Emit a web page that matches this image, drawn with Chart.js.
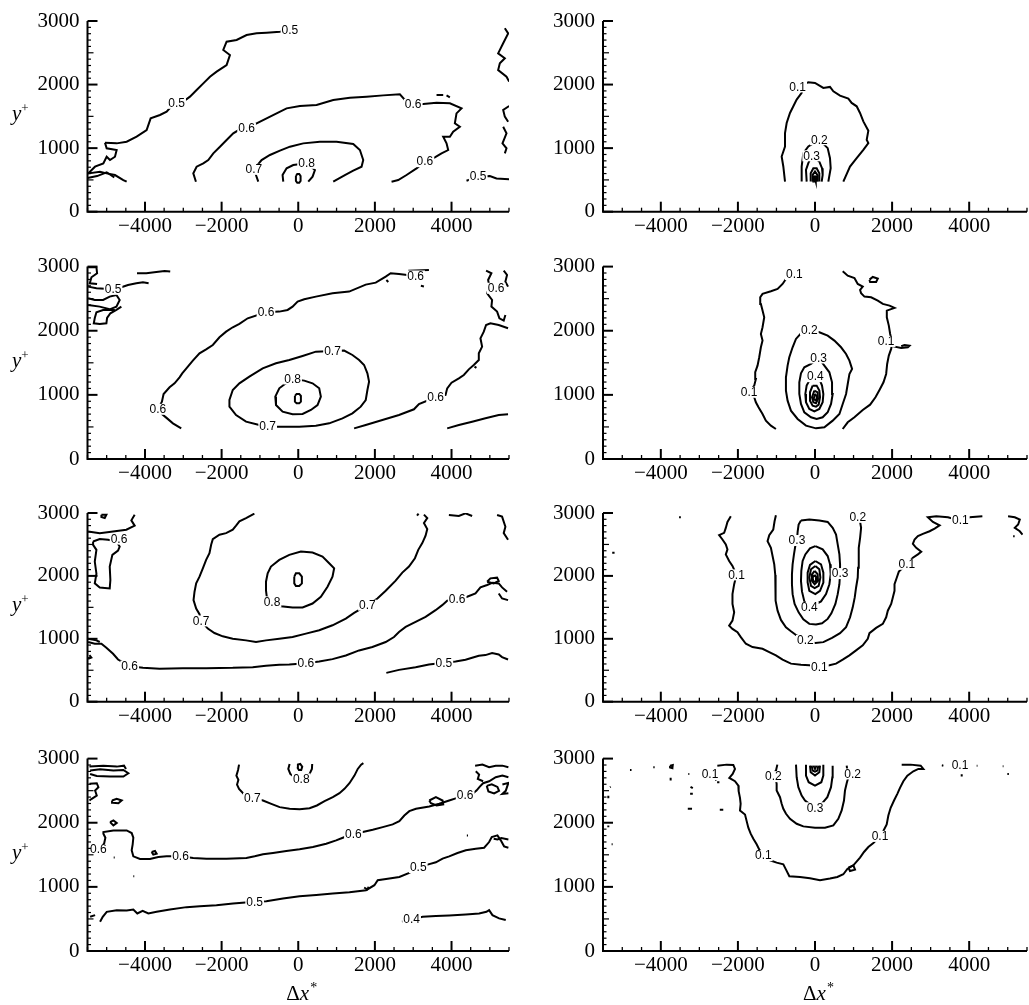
<!DOCTYPE html>
<html>
<head>
<meta charset="utf-8">
<script src="https://cdn.jsdelivr.net/npm/chart.js@4/dist/chart.umd.min.js"></script>
<style>
  body { margin: 0; background: #fff; width: 1029px; height: 1005px; overflow: hidden; position: relative; }
  .panel { position: absolute; }
</style>
</head>
<body>
<script>
// axis values
const X_RANGE = [-5500, 5500];
const Y_RANGE = [0, 3000];
const X_LABEL_TICKS = [-4000, -2000, 0, 2000, 4000];
const Y_LABEL_TICKS = [0, 1000, 2000, 3000];

// ---- row 1, left ----
const a1_lev05 = [
  [[-5044,1086],[-4739,1075],[-4478,1101],[-4218,1180],[-3957,1285],[-3852,1469],[-3609,1521],[-3435,1574],[-3304,1663],[-3174,1705],[-3000,1731],[-2826,1810],[-2652,1914],[-2478,2019],[-2304,2124],[-2130,2203],[-1870,2308],[-1783,2465],[-1957,2544],[-1870,2675],[-1609,2701],[-1348,2780],[-1087,2806],[-826,2817],[-478,2832],[-217,2848]],
  [[4391,488],[4696,551],[5000,561],[5174,524],[5504,509]]
];
const a1_lev06 = [
  [[-2670,472],[-2739,603],[-2652,708],[-2478,761],[-2348,813],[-2217,918],[-2043,1023],[-1870,1128],[-1696,1233],[-1522,1296],[-1348,1311],[-1087,1390],[-826,1469],[-565,1547],[-304,1626],[43,1663],[478,1678],[913,1757],[1348,1794],[1783,1810],[2217,1830],[2652,1846],[2783,1757],[3000,1689],[3261,1694],[3609,1715],[3957,1705],[4261,1626],[4130,1547],[4087,1390],[4217,1337],[4043,1259],[3957,1180],[3783,1180],[3870,1075],[3913,970],[3739,918],[3565,855],[3304,787],[3087,682],[2826,577],[2609,498],[2435,472]]
];
const a1_lev07 = [
  [[-1043,472],[-1104,577],[-1157,666],[-957,813],[-739,892],[-478,960],[-217,1023],[130,1075],[565,1101],[1000,1101],[1435,1065],[1609,970],[1696,813],[1652,708],[1435,645],[1217,577],[913,472]]
];
const a1_lev08 = [
  [[-391,472],[-409,577],[-304,682],[-130,734],[217,761],[435,656],[374,551],[261,472]]
];
const a1_lev09 = [
  [[-61,561],[-26,593],[26,593],[61,561],[61,483],[26,456],[-26,456],[-61,483],[-61,561]]
];
const a1_noise = [
  [[-5044,1086],[-5000,997],[-4739,970],[-4783,865],[-4913,813],[-5000,865],[-5087,760],[-5304,708],[-5478,603],[-5174,629],[-5000,603],[-4783,577],[-4565,498],[-4478,472]],
  [[-5500,530],[-5250,560],[-5000,620],[-4800,540]],
  [[3609,1836],[3783,1836]], [[3870,1830],[3957,1800]],
  [[5391,2885],[5478,2806],[5348,2649],[5217,2491],[5391,2413],[5261,2334],[5217,2229],[5435,2124],[5504,2046]],
  [[5504,1663],[5348,1600],[5391,1495],[5478,1416]],
  [[5348,1337],[5435,1233],[5330,1075],[5435,997],[5391,918]]
];
const a1_labels = [['0.5',-3174,1705],['0.5',-217,2848],['0.5',4696,551],['0.6',-1348,1311],['0.6',3000,1689],['0.6',3304,787],['0.7',-1157,666],['0.8',217,761]];

// ---- row 1, right ----
const b1_lev01 = [
  [[-778,474],[-822,711],[-865,868],[-778,1026],[-778,1237],[-735,1395],[-649,1553],[-562,1658],[-476,1763],[-346,1868],[-320,1990],[-173,2037],[0,2026],[216,1947],[389,1963],[476,1895],[649,1826],[865,1779],[951,1711],[1081,1658],[1168,1553],[1254,1421],[1384,1274],[1341,1132],[1384,1079],[1254,974],[1081,842],[908,711],[735,474]]
];
const b1_lev02 = [[[-346,474],[-346,711],[-303,921],[-173,1026],[112,1132],[329,1000],[389,842],[407,684],[346,474]]];
const b1_lev03 = [[[-216,474],[-234,658],[-173,763],[-86,879],[112,789],[182,684],[199,579],[173,474]]];
const b1_lev04 = [[[-112,474],[-112,605],[-43,684],[43,684],[112,605],[112,474]]];
const b1_lev05 = [[[-69,474],[-61,579],[0,632],[61,579],[69,474]], [[-43,474],[-26,553],[26,553],[43,474]], [[-20,474],[0,520],[20,474]]];
const b1_labels = [['0.1',-450,1963],['0.2',112,1132],['0.3',-86,879]];

// ---- row 2, left ----
const a2_lev05 = [[[3887,478],[4191,530],[4538,582],[4885,634],[5232,686],[5475,697]]];
const a2_lev06 = [
  [[-3054,478],[-3271,556],[-3445,645],[-3558,702],[-3662,775],[-3558,894],[-3514,1014],[-3358,1118],[-3228,1180],[-3098,1274],[-3028,1336],[-2881,1440],[-2751,1534],[-2577,1648],[-2404,1710],[-2230,1778],[-2056,1898],[-1883,1986],[-1709,2054],[-1536,2106],[-1319,2194],[-842,2288],[-495,2298],[-278,2324],[-148,2376],[-17,2454],[156,2490],[460,2532],[894,2584],[1328,2610],[1761,2719],[2022,2750],[2282,2844],[2412,2896],[2629,2886],[3063,2854]],
  [[1458,478],[1761,530],[2195,608],[2629,686],[3020,775],[3150,858],[3584,962],[3844,998],[3887,1102],[4000,1190],[4191,1258],[4321,1310],[4451,1398],[4581,1466],[4712,1544],[4712,1648],[4798,1752],[4755,1882],[4842,1986],[4902,2090],[5015,2116],[5232,2090],[5475,2038]]
];
const a2_lev07 = [
  [[-1015,530],[-1362,582],[-1623,686],[-1796,816],[-1796,920],[-1709,1076],[-1536,1180],[-1276,1284],[-928,1414],[-581,1492],[-234,1544],[113,1607],[460,1674],[894,1684],[1197,1690],[1414,1622],[1588,1544],[1718,1466],[1805,1336],[1848,1206],[1805,1076],[1761,920],[1631,816],[1414,712],[1154,634],[807,556],[460,520],[26,504],[-321,504],[-798,504],[-1015,530]]
];
const a2_lev08 = [
  [[-321,1180],[-495,1102],[-599,972],[-581,842],[-408,738],[-148,697],[113,702],[330,764],[503,842],[590,972],[547,1102],[373,1180],[156,1222],[-148,1248],[-321,1180]]
];
const a2_lev09 = [[[-87,983],[-43,1014],[26,1014],[69,983],[69,894],[26,868],[-43,868],[-87,894],[-87,983]]];
const a2_noise = [
  [[-4208,2896],[-3965,2896],[-3705,2917],[-3488,2932],[-3341,2922]],
  [[-5484,2688],[-5267,2662],[-4833,2646],[-4616,2677],[-4443,2714],[-4226,2740],[-4052,2756],[-3905,2740]],
  [[-5484,2402],[-5180,2376],[-4920,2334],[-4746,2376],[-4660,2480],[-4746,2558],[-4920,2532],[-5093,2480],[-5310,2480],[-5484,2506]],
  [[-4790,2324],[-5093,2324],[-5267,2288],[-5310,2199],[-5336,2116],[-5180,2106],[-5007,2116],[-4989,2199],[-4903,2272],[-4746,2324],[-4616,2376]],
  [[-5484,2990],[-5267,2990],[-5250,2896],[-5397,2834],[-5440,2740],[-5250,2730]],
  [[2872,2937],[3410,2948]], [[2300,2790],[2350,2760]], [[3200,2700],[3280,2690]],
  [[4902,2937],[5041,2896],[4955,2792],[4989,2688],[4929,2584],[5059,2480],[5041,2376],[5189,2298],[5250,2194],[5362,2158],[5406,2246]],
  [[5362,2937],[5449,2870],[5406,2766],[5475,2688]],
  [[4600,1440],[4650,1420]]
];
const a2_labels = [['0.5',-4833,2646],['0.6',-3662,775],['0.6',-842,2288],['0.6',3063,2854],['0.6',5163,2662],['0.6',3584,962],['0.7',894,1684],['0.7',-798,504],['0.8',-148,1248]];

// ---- row 2, right ----
const b2_lev01 = [
  [[-1014,468],[-1144,520],[-1274,598],[-1361,702],[-1465,806],[-1534,884],[-1577,962],[-1707,1040],[-1577,1144],[-1534,1248],[-1551,1352],[-1491,1456],[-1447,1586],[-1404,1742],[-1361,1846],[-1404,1950],[-1361,2054],[-1317,2210],[-1361,2314],[-1404,2418],[-1421,2522],[-1361,2574],[-1144,2615],[-971,2651],[-841,2729],[-754,2807],[-537,2875]],
  [[719,468],[849,572],[1023,650],[1239,764],[1430,847],[1569,962],[1673,1076],[1777,1196],[1846,1326],[1872,1482],[1915,1612],[1976,1716],[2002,1820],[1950,1950],[1915,2080],[1863,2210],[1863,2314],[2063,2355],[1933,2392],[1759,2418],[1629,2470],[1456,2522],[1283,2532],[1196,2584],[1170,2636],[1239,2688],[1109,2729],[1023,2823],[849,2859],[719,2927]],
  [[2002,1760],[2236,1731],[2409,1742],[2453,1768],[2323,1778],[2236,1760]],
  [[1413,2797],[1499,2838],[1629,2812],[1586,2760],[1430,2760],[1413,2797]]
];
const b2_lev02 = [
  [[-147,2012],[-364,1960],[-494,1872],[-581,1742],[-667,1586],[-711,1456],[-754,1274],[-754,1066],[-711,910],[-624,754],[-451,624],[-234,520],[26,478],[243,494],[459,598],[633,702],[719,858],[806,1014],[849,1170],[893,1326],[962,1404],[893,1534],[806,1638],[676,1742],[503,1846],[329,1924],[113,1976],[-147,2012]]
];
const b2_lev03 = [
  [[95,1575],[-104,1482],[-277,1430],[-364,1336],[-407,1196],[-407,1014],[-364,858],[-277,728],[-104,650],[43,624],[199,650],[329,728],[416,858],[459,1014],[442,1196],[373,1352],[243,1456],[95,1575]]
];
const b2_lev04 = [
  [[9,1284],[-147,1222],[-217,1144],[-251,1014],[-234,884],[-147,780],[-17,743],[113,780],[199,884],[217,1014],[182,1144],[130,1222],[9,1284]]
];
const b2_lev05 = [
  [[-61,1144],[-130,1040],[-130,910],[-61,832],[26,816],[95,848],[130,962],[113,1066],[43,1144],[-61,1144]],
  [[-17,1066],[-78,962],[-43,884],[26,868],[78,936],[69,1040],[-17,1066]],
  [[0,1014],[-35,936],[26,910],[52,972],[0,1014]]
];
const b2_labels = [['0.1',-1707,1040],['0.1',-537,2875],['0.1',1846,1833],['0.2',-147,2012],['0.3',95,1575],['0.4',9,1284]];

// ---- row 3, left ----
const a3_lev05 = [[[2299,458],[2629,506],[3063,549],[3410,592],[3800,618],[4104,639],[4365,666],[4538,698],[4712,730],[4885,741],[5059,773],[5232,751],[5319,709],[5475,671]]];
const a3_lev06 = [
  [[-5484,949],[-5310,922],[-5137,922],[-5007,858],[-4833,762],[-4703,671],[-4399,565],[-4052,538],[-3618,522],[-3011,533],[-2404,533],[-1709,538],[-1189,549],[-842,570],[-495,586],[-234,592],[200,613],[547,639],[894,677],[1241,735],[1588,815],[1935,869],[2282,949],[2499,1028],[2629,1108],[2803,1188],[3063,1268],[3323,1348],[3584,1455],[3757,1535],[3887,1604],[4148,1625],[4408,1668],[4625,1721],[4755,1817],[4929,1855],[5076,1892],[5232,1881],[5319,1817],[5449,1748]],
  [[4929,1908],[5015,1961],[5189,1972],[5232,1919],[5102,1881],[4929,1908]],
  [[5232,1721],[5319,1641],[5475,1615]]
];
const a3_lev07 = [
  [[-1145,2990],[-1362,2920],[-1536,2867],[-1623,2798],[-1709,2734],[-1883,2680],[-2056,2654],[-2230,2585],[-2273,2494],[-2317,2361],[-2404,2254],[-2490,2121],[-2577,1988],[-2664,1881],[-2707,1748],[-2733,1615],[-2664,1481],[-2577,1391],[-2534,1284],[-2360,1162],[-2187,1092],[-1970,1039],[-1709,1002],[-1362,975],[-1102,949],[-842,975],[-495,1002],[-148,1028],[200,1082],[547,1135],[894,1215],[1241,1322],[1458,1412],[1805,1535],[2065,1641],[2282,1764],[2542,1924],[2716,2052],[2889,2148],[3045,2281],[3132,2414],[3237,2521],[3323,2638],[3367,2744],[3280,2840],[3367,2920],[3280,2974]]
];
const a3_lev08 = [
  [[-685,1588],[-451,1519],[-148,1497],[113,1497],[373,1561],[590,1668],[764,1828],[894,1988],[937,2121],[807,2201],[633,2307],[373,2371],[69,2387],[-234,2334],[-495,2254],[-712,2148],[-798,2041],[-842,1908],[-842,1769],[-824,1679],[-685,1588]]
];
const a3_lev09 = [[[-104,1988],[-61,2041],[26,2041],[95,1988],[95,1881],[26,1839],[-61,1839],[-104,1881],[-104,1988]]];
const a3_noise = [
  [[-5484,2707],[-5180,2680],[-4833,2707],[-4486,2734],[-4269,2798],[-4356,2883],[-4269,2974]],
  [[-5137,2974],[-5007,2974],[-5050,2920],[-5137,2936],[-5137,2974]],
  [[-5354,2547],[-5180,2585],[-4963,2574],[-4746,2547],[-4660,2467],[-4703,2403],[-4851,2334],[-4920,2148],[-4903,1935],[-4920,1801],[-5180,1817],[-5310,1881],[-5267,2036],[-5310,2228],[-5267,2414],[-5354,2494],[-5354,2547]],
  [[-5484,1002],[-5267,975],[-5180,949]],
  [[-5484,680],[-5400,700],[-5450,740]],
  [[3931,2968],[4191,2952],[4365,2995],[4538,2952]],
  [[5189,2968],[5319,2942],[5406,2781],[5362,2680],[5475,2574]],
  [[3100,2960],[3140,2990]]
];
const a3_labels = [['0.6',-4677,2585],['0.8',-685,1588],['0.7',-2534,1284],['0.7',1805,1535],['0.6',-4399,565],['0.6',200,613],['0.6',4148,1625],['0.5',3800,618]];

// ---- row 3, right ----
const b3_lev01 = [
  [[-2184,2947],[-2271,2858],[-2314,2763],[-2357,2684],[-2487,2647],[-2401,2579],[-2314,2500],[-2271,2421],[-2314,2342],[-2227,2237],[-2141,2158],[-2037,2016],[-2097,1868],[-2141,1710],[-2141,1553],[-2097,1421],[-2141,1289],[-2227,1210],[-2141,1158],[-2011,1105],[-1924,1026],[-1794,921],[-1621,868],[-1361,842],[-1187,789],[-1014,737],[-841,668],[-624,605],[-364,589],[-147,579],[113,553],[373,579],[546,605],[719,668],[893,737],[1066,816],[1239,895],[1369,1000],[1413,1089],[1586,1174],[1759,1237],[1846,1342],[1889,1447],[1976,1553],[2019,1658],[2063,1763],[2063,1868],[2123,1974],[2175,2068],[2383,2184],[2539,2289],[2669,2342],[2756,2384],[2626,2447],[2539,2510],[2583,2579],[2669,2632],[2799,2668],[2973,2710],[3103,2753],[3233,2805],[3059,2858],[2929,2931],[3146,2947],[3449,2931],[3770,2879],[4013,2931],[4342,2947]],
  [[5009,2947],[5183,2931],[5313,2895],[5270,2816],[5183,2763],[5313,2710],[5383,2658]]
];
const b3_lev02 = [
  [[-1014,2963],[-1049,2868],[-1083,2737],[-1187,2647],[-1231,2553],[-1144,2447],[-1101,2316],[-1057,2184],[-1031,2016],[-1031,1816],[-1014,1605],[-971,1447],[-884,1300],[-754,1184],[-624,1121],[-477,1053],[-251,974],[9,932],[217,947],[442,1016],[650,1089],[806,1184],[910,1342],[979,1500],[1031,1658],[1066,1816],[1109,1974],[1118,2131],[1135,2289],[1135,2447],[1170,2605],[1196,2763],[1170,2858],[1109,2931]]
];
const b3_lev03 = [
  [[-364,2879],[-147,2895],[113,2879],[329,2858],[459,2763],[546,2658],[589,2500],[633,2342],[650,2184],[650,2037],[633,1868],[589,1710],[529,1553],[425,1405],[329,1316],[182,1247],[26,1226],[-147,1237],[-303,1310],[-425,1421],[-529,1553],[-581,1710],[-598,1868],[-598,2026],[-581,2184],[-546,2342],[-511,2474],[-468,2563],[-451,2700],[-425,2816],[-364,2879]]
];
const b3_lev04 = [
  [[9,2474],[199,2421],[329,2316],[390,2184],[407,2026],[373,1868],[286,1710],[156,1595],[26,1553],[-147,1500],[-277,1595],[-338,1753],[-364,1921],[-355,2079],[-321,2237],[-251,2342],[-130,2437],[9,2474]]
];
const b3_lev05 = [
  [[9,2237],[156,2184],[217,2052],[217,1895],[130,1763],[9,1710],[-147,1763],[-191,1895],[-191,2052],[-130,2174],[9,2237]],
  [[9,2158],[113,2105],[139,1974],[95,1842],[-9,1805],[-104,1842],[-147,1974],[-104,2105],[9,2158]],
  [[-9,2079],[69,2026],[78,1921],[-9,1868],[-78,1921],[-78,2026],[-9,2079]],
  [[-9,2016],[43,1974],[26,1910],[-43,1910],[-61,1974],[-9,2016]]
];
const b3_noise = [[[-3527,2931],[-3480,2931]], [[5140,2631],[5180,2631]], [[-5261,2368],[-5200,2368]]];
const b3_labels = [['0.1',-2037,2016],['0.1',113,553],['0.1',2383,2184],['0.1',3770,2879],['0.2',-251,974],['0.2',1109,2931],['0.3',-468,2563],['0.3',650,2037],['0.4',-147,1500]];

// ---- row 4, left ----
const a4_lev04 = [[[2707,456],[2959,492],[3245,534],[3592,544],[3939,554],[4373,570],[4720,585],[4911,611],[4981,637],[5068,559],[5241,508],[5415,482]]];
const a4_lev05 = [
  [[-5172,456],[-5102,534],[-4998,611],[-4738,637],[-4477,632],[-4304,648],[-4200,585],[-4061,627],[-3913,585],[-3696,611],[-3349,648],[-2915,684],[-2568,699],[-2135,715],[-1701,741],[-1137,767],[-833,777],[-399,818],[35,855],[469,875],[902,896],[1336,917],[1770,948],[1987,1026],[2074,1103],[2291,1124],[2638,1155],[2898,1217],[3132,1300],[3375,1347],[3592,1383],[3766,1440],[3939,1476],[4156,1528],[4373,1570],[4633,1595],[4851,1611],[4981,1699],[5050,1777],[5198,1803],[5285,1725],[5372,1632],[5484,1611]],
  [[1720,990],[1800,960],[1840,1000]],
  [[5100,1750],[5200,1740],[5300,1760],[5484,1740]]
];
const a4_lev06 = [
  [[-5449,1518],[-5345,1544],[-5215,1580],[-5067,1673],[-5033,1766],[-5085,1829],[-5085,1854],[-4824,1880],[-4477,1880],[-4347,1839],[-4304,1766],[-4321,1663],[-4347,1570],[-4304,1476],[-4130,1435],[-3870,1435],[-3653,1466],[-3436,1476],[-3072,1476],[-2742,1450],[-2395,1440],[-1874,1440],[-1354,1450],[-1137,1476],[-920,1507],[-659,1528],[-312,1559],[35,1585],[382,1621],[729,1673],[989,1725],[1163,1766],[1440,1829],[1683,1854],[1944,1891],[2204,1932],[2464,1974],[2638,2025],[2768,2113],[2898,2181],[3072,2217],[3419,2253],[3679,2295],[3939,2347],[4130,2383],[4356,2424],[4547,2450],[4651,2502],[4738,2564],[4824,2616],[4981,2647],[5154,2709],[5328,2735],[5484,2709]],
  [[3419,2347],[3592,2398],[3766,2347],[3783,2284],[3610,2269],[3462,2305],[3419,2347]]
];
const a4_lev07 = [
  [[-1545,2906],[-1571,2823],[-1614,2735],[-1562,2668],[-1597,2595],[-1545,2528],[-1423,2450],[-1197,2383],[-920,2347],[-703,2295],[-486,2243],[-226,2217],[35,2212],[295,2227],[486,2269],[686,2336],[902,2398],[1076,2461],[1206,2528],[1336,2616],[1466,2735],[1553,2839],[1640,2906],[1700,2930]]
];
const a4_lev08 = [
  [[-226,2916],[-260,2839],[-208,2761],[-139,2730]],
  [[364,2916],[356,2839],[295,2761],[226,2730]],
  [[-26,2864],[-9,2906],[52,2916],[104,2875],[78,2823],[17,2823],[-26,2864]]
];
const a4_noise = [
  [[-5449,2875],[-5085,2890],[-4738,2875],[-4547,2890],[-4495,2839]],
  [[-5432,2813],[-5172,2834],[-4824,2813],[-4564,2823],[-4434,2771],[-4564,2719],[-4911,2719],[-5258,2730],[-5432,2761]],
  [[-5449,2606],[-5258,2616],[-5215,2554],[-5302,2502],[-5258,2424],[-5389,2373],[-5449,2347]],
  [[-4859,2347],[-4738,2373],[-4608,2347],[-4694,2305],[-4842,2310],[-4859,2347]],
  [[-4911,2010],[-4824,2036],[-4738,1995],[-4824,1958],[-4911,2010]],
  [[-3826,1544],[-3739,1559],[-3696,1518],[-3783,1502],[-3826,1544]],
  [[-4816,1456],[-4790,1456]], [[-4304,1166],[-4280,1166]],
  [[-5432,534],[-5302,559]],
  [[4616,2890],[4807,2906],[4981,2865],[5154,2890],[5328,2890],[5484,2865]],
  [[4633,2802],[4720,2751],[4686,2683],[4824,2647]],
  [[4919,2575],[5050,2600],[5198,2559],[5241,2497],[5111,2456],[4963,2487],[4919,2575]],
  [[5328,2595],[5484,2621],[5415,2497],[5328,2450],[5484,2461]],
  [[4400,1800],[4430,1800]]
];
const a4_labels = [['0.7',-1197,2383],['0.8',78,2683],['0.6',-5215,1580],['0.6',-3072,1476],['0.6',1440,1829],['0.6',4356,2424],['0.5',-1137,767],['0.5',3132,1300],['0.4',2959,492]];

// ---- row 4, right ----
const b4_lev01 = [
  [[-2534,2890],[-2292,2906],[-2119,2901],[-2076,2839],[-2136,2761],[-2223,2699],[-2076,2647],[-1989,2580],[-1981,2492],[-1946,2388],[-1929,2295],[-1946,2191],[-1816,2129],[-1773,2025],[-1730,1922],[-1669,1829],[-1600,1751],[-1514,1663],[-1444,1580],[-1341,1487],[-1168,1414],[-995,1378],[-822,1352],[-752,1269],[-666,1166],[-389,1155],[-130,1134],[130,1103],[389,1129],[579,1155],[735,1197],[839,1279],[995,1336],[1168,1456],[1271,1544],[1384,1621],[1514,1684],[1687,1787],[1773,1870],[1860,1974],[1903,2113],[1963,2233],[2050,2347],[2136,2450],[2205,2543],[2292,2647],[2396,2735],[2551,2802],[2681,2839],[2811,2839],[2742,2890],[2482,2906],[2249,2906]],
  [[865,1300],[995,1336],[1038,1269],[908,1248],[865,1300]]
];
const b4_lev02 = [
  [[-977,2906],[-1012,2813],[-1029,2709],[-995,2606],[-995,2502],[-908,2398],[-865,2295],[-822,2217],[-752,2139],[-649,2062],[-476,1984],[-303,1943],[0,1922],[259,1922],[476,1958],[605,2062],[692,2191],[752,2347],[778,2502],[822,2616],[865,2709],[839,2813],[822,2890]]
];
const b4_lev03 = [[[-493,2906],[-476,2709],[-432,2554],[-346,2424],[-259,2347],[-147,2295],[0,2233],[173,2295],[320,2398],[415,2554],[450,2709],[458,2890]]];
const b4_lev04 = [
  [[-234,2906],[-234,2735],[-164,2632],[0,2580],[164,2632],[216,2735],[216,2906]],
  [[-130,2890],[-112,2787],[0,2735],[112,2787],[130,2890]],
  [[-86,2890],[-61,2813],[0,2797],[61,2813],[86,2890]],
  [[-40,2890],[0,2840],[40,2890]]
];
const b4_noise = [
  [[-4800,2823],[-4760,2823]], [[-4195,2865],[-4160,2865]],
  [[-3760,2890],[-3690,2900],[-3700,2850],[-3760,2860],[-3760,2890]],
  [[-3745,2700],[-3745,2660]],
  [[-3287,2761],[-3260,2761]], [[-3230,2560],[-3170,2540]], [[-3240,2450],[-3170,2450]], [[-3300,2217],[-3190,2217]],
  [[-2470,2201],[-2380,2201]], [[-2540,2632],[-2480,2632]], [[-2600,2700],[-2560,2660]],
  [[-5319,2554],[-5300,2560]], [[-5362,2420],[-5362,2380]], [[-5362,1958],[-5362,1930]], [[-5276,1663],[-5250,1663]],
  [[3290,2895],[3330,2890]], [[3806,2755],[3806,2720]], [[4195,2890],[4215,2890]],
  [[4870,2880],[4890,2880]], [[4990,2760],[5030,2760]], [[5190,2790],[5210,2790]]
];
const b4_labels = [['0.1',-2724,2751],['0.1',-1341,1487],['0.1',1687,1787],['0.1',3762,2890],['0.2',-1081,2719],['0.2',977,2761],['0.3',0,2233]];

// page geometry
const COL_X = [0, 515], COL_W = [520, 514];
const PLOT_L = [87.5, 88], PLOT_R = [509, 512];
const ROW_Y = [0, 246, 492, 738], ROW_H = [246, 246, 246, 267];
const PLOT_T = [21, 266.5, 513, 758], PLOT_B = [211.7, 459, 701.7, 951];
const SERIF = '"Liberation Serif", "Times New Roman", serif';
const SANS = '"Liberation Sans", Arial, sans-serif';

const panels = [
  { row: 0, col: 0, lines: [...a1_lev05, ...a1_lev06, ...a1_lev07, ...a1_lev08, ...a1_lev09, ...a1_noise], labels: a1_labels },
  { row: 0, col: 1, lines: [...b1_lev01, ...b1_lev02, ...b1_lev03, ...b1_lev04, ...b1_lev05], labels: b1_labels },
  { row: 1, col: 0, lines: [...a2_lev05, ...a2_lev06, ...a2_lev07, ...a2_lev08, ...a2_lev09, ...a2_noise], labels: a2_labels },
  { row: 1, col: 1, lines: [...b2_lev01, ...b2_lev02, ...b2_lev03, ...b2_lev04, ...b2_lev05], labels: b2_labels },
  { row: 2, col: 0, lines: [...a3_lev05, ...a3_lev06, ...a3_lev07, ...a3_lev08, ...a3_lev09, ...a3_noise], labels: a3_labels },
  { row: 2, col: 1, lines: [...b3_lev01, ...b3_lev02, ...b3_lev03, ...b3_lev04, ...b3_lev05, ...b3_noise], labels: b3_labels },
  { row: 3, col: 0, lines: [...a4_lev04, ...a4_lev05, ...a4_lev06, ...a4_lev07, ...a4_lev08, ...a4_noise], labels: a4_labels },
  { row: 3, col: 1, lines: [...b4_lev01, ...b4_lev02, ...b4_lev03, ...b4_lev04, ...b4_noise], labels: b4_labels }
];

// axes drawn as in the figure: only left and bottom, ticks pointing inwards
const frame = {
  id: 'frame',
  afterDraw(chart) {
    const { ctx, chartArea: a, scales: { x, y } } = chart;
    ctx.save();
    ctx.strokeStyle = '#000';
    ctx.lineWidth = 2;
    ctx.beginPath();
    ctx.moveTo(a.left, a.top);
    ctx.lineTo(a.left, a.bottom);
    ctx.lineTo(a.right, a.bottom);
    ctx.stroke();
    for (let v = X_RANGE[0]; v <= X_RANGE[1]; v += 500) {
      const px = x.getPixelForValue(v);
      const major = X_LABEL_TICKS.includes(v);
      ctx.lineWidth = major ? 2 : 1.3;
      ctx.beginPath();
      ctx.moveTo(px, a.bottom);
      ctx.lineTo(px, a.bottom - (major ? 10 : 4));
      ctx.stroke();
    }
    for (let v = Y_RANGE[0]; v <= Y_RANGE[1]; v += 100) {
      const py = y.getPixelForValue(v);
      const len = v % 1000 === 0 ? 10 : (v % 500 === 0 ? 6 : 3.5);
      ctx.lineWidth = v % 1000 === 0 ? 2 : 1.2;
      ctx.beginPath();
      ctx.moveTo(a.left, py);
      ctx.lineTo(a.left + len, py);
      ctx.stroke();
    }
    ctx.restore();
  }
};

// inline contour values with a white gap behind them
const contourLabels = {
  id: 'contourLabels',
  afterDatasetsDraw(chart, args, opts) {
    const { ctx, scales: { x, y } } = chart;
    ctx.save();
    ctx.font = '12px ' + SANS;
    ctx.textAlign = 'center';
    ctx.textBaseline = 'middle';
    (opts.items || []).forEach(([t, vx, vy]) => {
      const px = x.getPixelForValue(vx), py = y.getPixelForValue(vy);
      const w = ctx.measureText(t).width;
      ctx.fillStyle = '#fff';
      ctx.fillRect(px - w / 2 - 1, py - 5.5, w + 2, 11);
      ctx.fillStyle = '#000';
      ctx.fillText(t, px, py + 0.5);
    });
    ctx.restore();
  }
};

// y+ and Δx* titles (mixed italic / superscript)
const axisTitles = {
  id: 'axisTitles',
  afterDraw(chart, args, opts) {
    const { ctx, chartArea: a, scales: { x } } = chart;
    ctx.save();
    ctx.fillStyle = '#000';
    ctx.textBaseline = 'alphabetic';
    ctx.textAlign = 'left';
    if (opts.yTitle) {
      const cy = (a.top + a.bottom) / 2;
      ctx.font = 'italic 21px ' + SERIF;
      ctx.fillText('y', 12, cy + 4);
      const wy = ctx.measureText('y').width;
      ctx.font = '13px ' + SERIF;
      ctx.fillText('+', 12 + wy, cy - 4);
    }
    if (opts.xTitle) {
      const cx = x.getPixelForValue(0) + 3;
      ctx.font = '21px ' + SERIF;
      const w1 = ctx.measureText('\u0394').width;
      ctx.font = 'italic 21px ' + SERIF;
      const w2 = ctx.measureText('x').width;
      ctx.font = '14px ' + SERIF;
      const w3 = ctx.measureText('*').width;
      const x0 = cx - (w1 + w2 + w3) / 2;
      const base = chart.height - 5;
      ctx.font = '21px ' + SERIF;
      ctx.fillText('\u0394', x0, base);
      ctx.font = 'italic 21px ' + SERIF;
      ctx.fillText('x', x0 + w1, base);
      ctx.font = '14px ' + SERIF;
      ctx.fillText('*', x0 + w1 + w2 + 1, base - 8);
    }
    ctx.restore();
  }
};

function fmtTick(v) {
  return v < 0 ? '\u2212' + Math.abs(v) : String(v);
}

panels.forEach(p => {
  const wrap = document.createElement('div');
  wrap.className = 'panel';
  const w = COL_W[p.col], h = ROW_H[p.row];
  wrap.style.left = COL_X[p.col] + 'px';
  wrap.style.top = ROW_Y[p.row] + 'px';
  wrap.style.width = w + 'px';
  wrap.style.height = h + 'px';
  const cv = document.createElement('canvas');
  cv.width = w; cv.height = h;
  cv.style.width = w + 'px'; cv.style.height = h + 'px';
  wrap.appendChild(cv);
  document.body.appendChild(wrap);

  const xHeight = ROW_Y[p.row] + h - PLOT_B[p.row];
  const padTop = PLOT_T[p.row] - ROW_Y[p.row];

  new Chart(cv, {
    type: 'scatter',
    data: {
      datasets: p.lines.map(line => ({
        data: line.map(([x, y]) => ({ x, y })),
        showLine: true,
        borderColor: '#000',
        borderWidth: 2,
        pointRadius: 0,
        fill: false,
        tension: 0
      }))
    },
    options: {
      responsive: false,
      animation: false,
      devicePixelRatio: 1,
      events: [],
      layout: { padding: { top: padTop, right: w - PLOT_R[p.col], left: 0, bottom: 0 } },
      plugins: {
        legend: { display: false },
        tooltip: { enabled: false },
        contourLabels: { items: p.labels },
        axisTitles: { yTitle: p.col === 0, xTitle: p.row === 3 }
      },
      scales: {
        x: {
          type: 'linear', min: X_RANGE[0], max: X_RANGE[1],
          afterBuildTicks: s => { s.ticks = X_LABEL_TICKS.map(v => ({ value: v })); },
          afterFit: s => { s.height = xHeight; },
          grid: { display: false, drawTicks: false },
          border: { display: false },
          ticks: { autoSkip: false, maxRotation: 0, padding: 2, color: '#000', font: { family: SERIF, size: 21 }, callback: v => fmtTick(v) }
        },
        y: {
          type: 'linear', min: Y_RANGE[0], max: Y_RANGE[1],
          afterBuildTicks: s => { s.ticks = Y_LABEL_TICKS.map(v => ({ value: v })); },
          afterFit: s => { s.width = PLOT_L[p.col]; },
          grid: { display: false, drawTicks: false },
          border: { display: false },
          ticks: { autoSkip: false, padding: 8, color: '#000', font: { family: SERIF, size: 21 }, callback: v => String(v) }
        }
      }
    },
    plugins: [frame, contourLabels, axisTitles]
  });
});
</script>
</body>
</html>
